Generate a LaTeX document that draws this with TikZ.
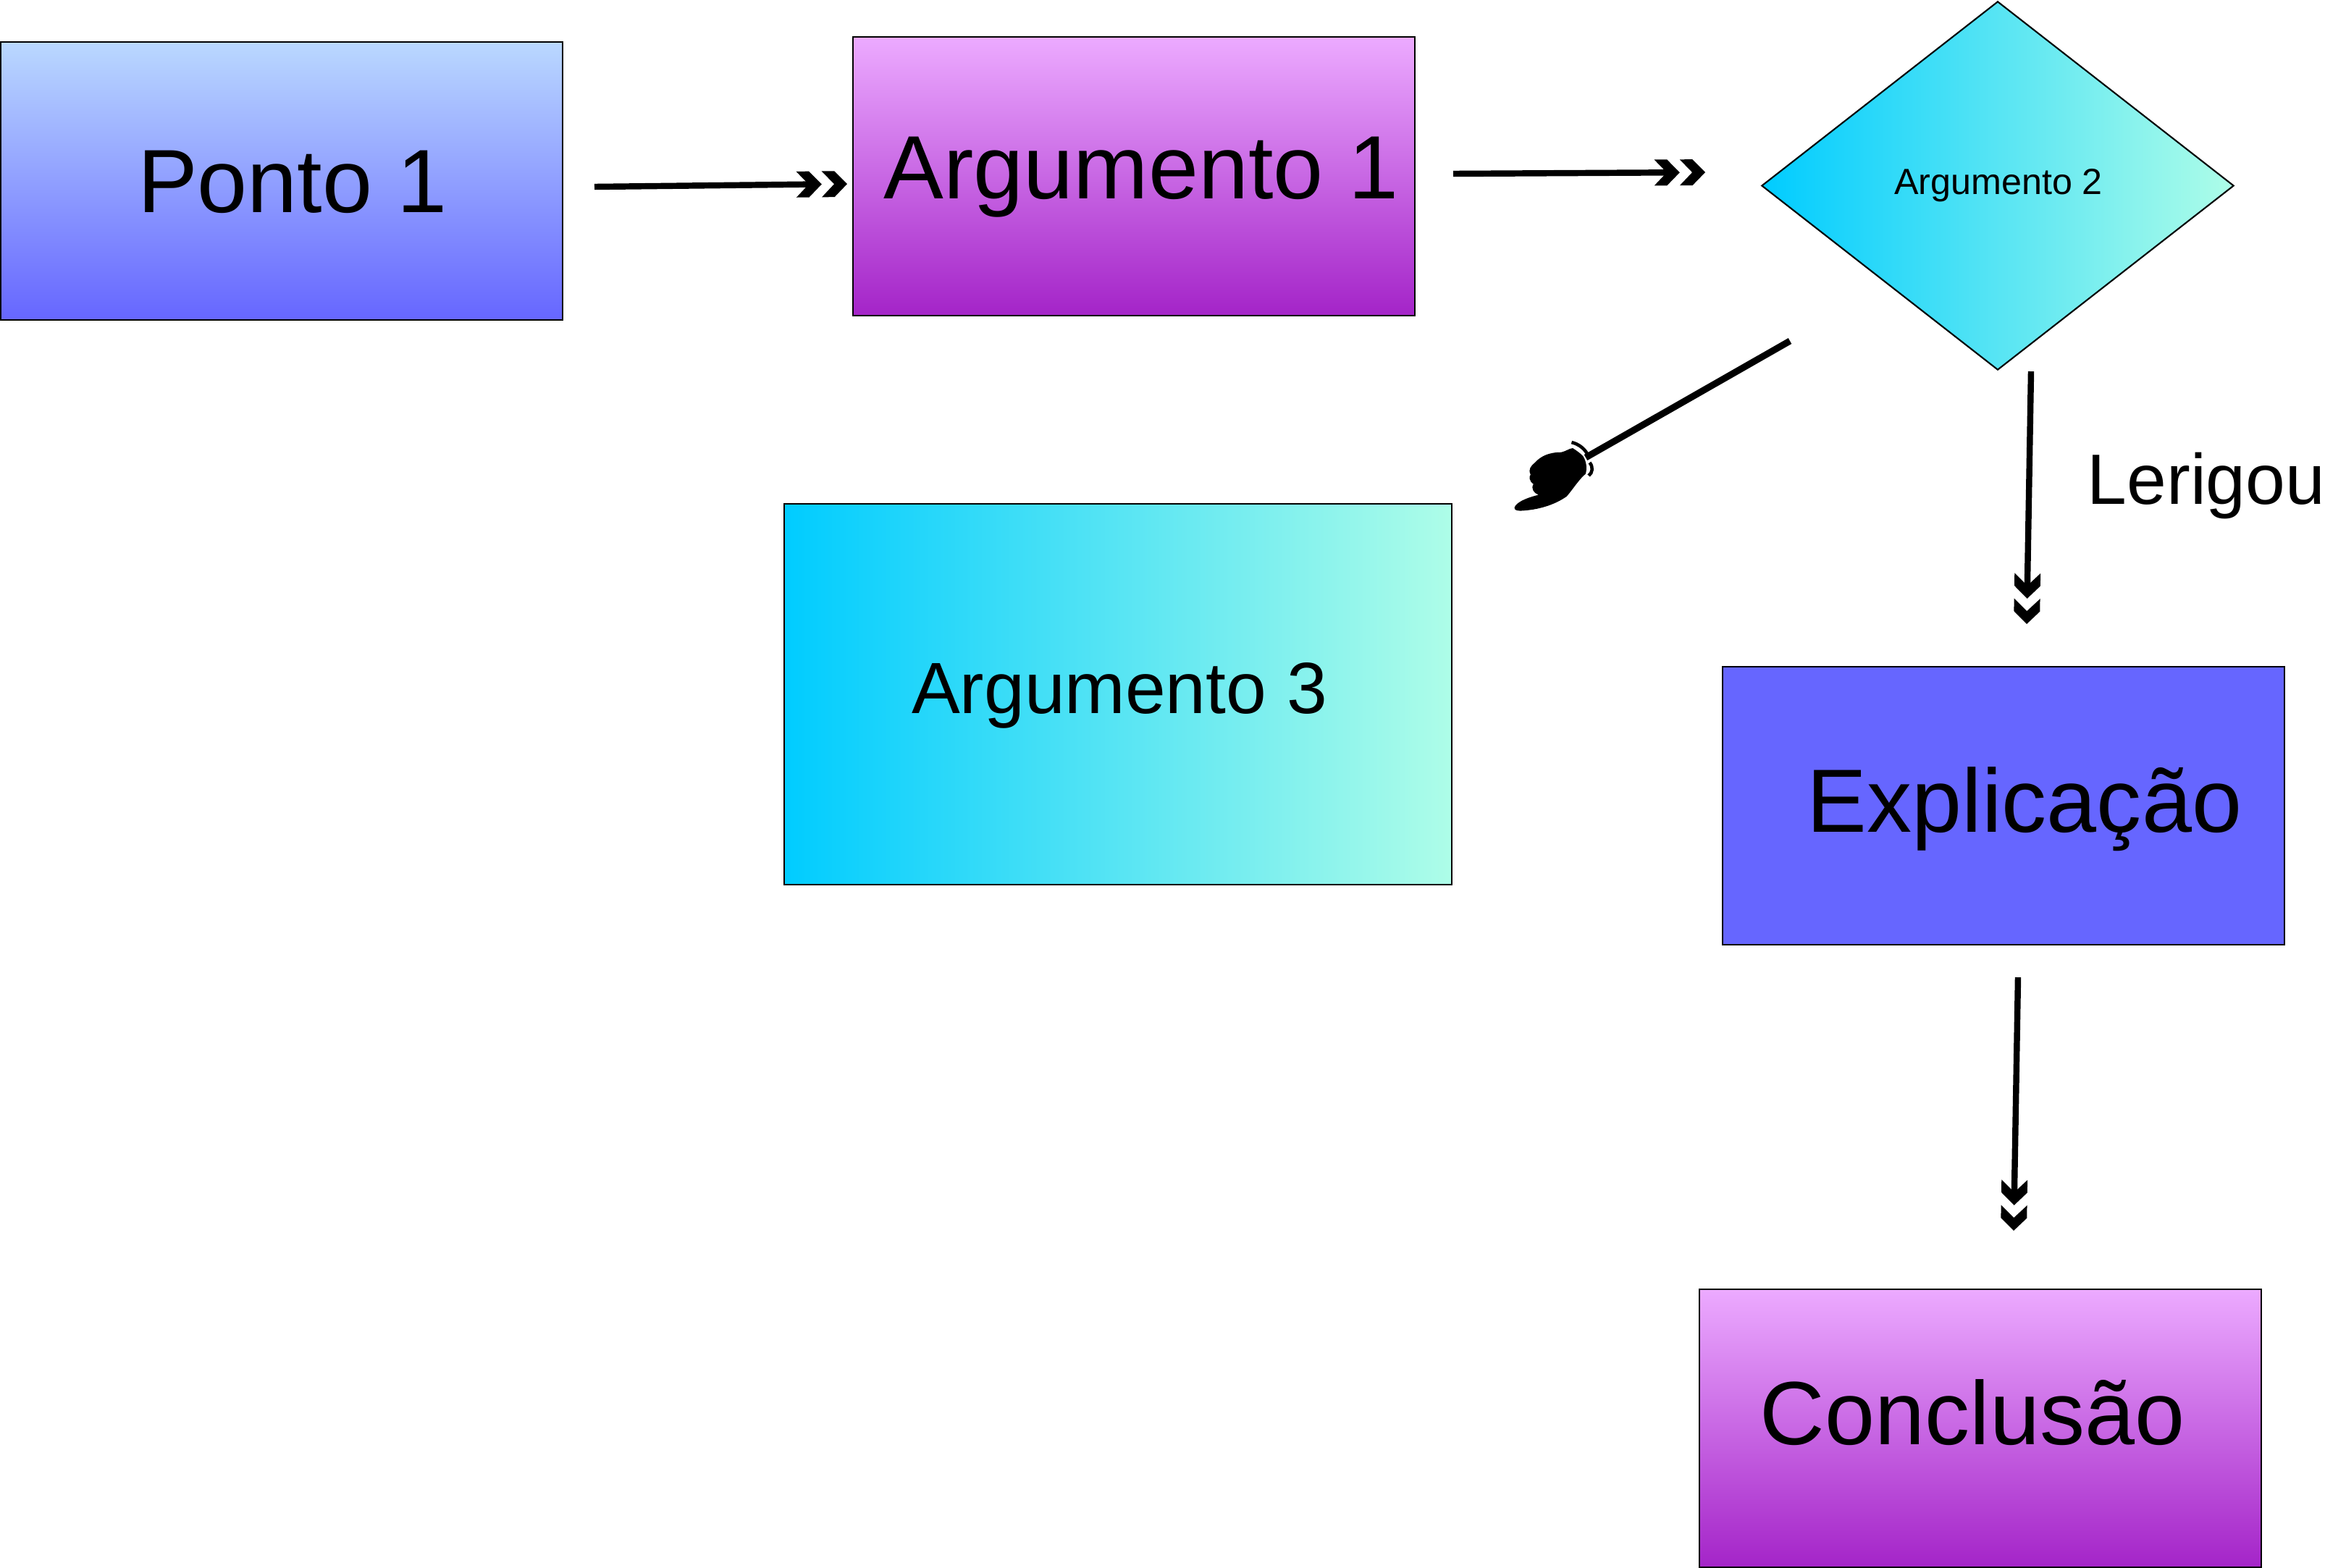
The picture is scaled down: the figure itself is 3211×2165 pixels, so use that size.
\documentclass[tikz,border=0pt]{standalone}
\usepackage{fontspec}
\setmainfont{Liberation Sans}
\usetikzlibrary{arrows.meta,shapes.geometric}

\definecolor{bluetop}{HTML}{BAD8FF}
\definecolor{bluelow}{HTML}{6666FF}
\definecolor{purpletop}{HTML}{ECAAFF}
\definecolor{purplelow}{HTML}{A424C8}
\definecolor{cyanleft}{HTML}{00CCFF}
\definecolor{cyanright}{HTML}{AEFDE8}

% double chevron tip
\pgfdeclarearrow{
  name=Chevrons,
  setup code={
    \pgfarrowssettipend{20pt}
    \pgfarrowssetbackend{0pt}
    \pgfarrowssetlineend{6pt}
    \pgfarrowssetvisualbackend{0pt}
  },
  drawing code={
    \pgfpathmoveto{\pgfpoint{10pt}{0pt}}
    \pgfpathlineto{\pgfpoint{5pt}{5.1pt}}
    \pgfpathlineto{\pgfpoint{0pt}{5.1pt}}
    \pgfpathlineto{\pgfpoint{4.9pt}{0pt}}
    \pgfpathlineto{\pgfpoint{0pt}{-5.1pt}}
    \pgfpathlineto{\pgfpoint{5pt}{-5.1pt}}
    \pgfpathclose
    \pgfpathmoveto{\pgfpoint{20pt}{0pt}}
    \pgfpathlineto{\pgfpoint{15pt}{5.1pt}}
    \pgfpathlineto{\pgfpoint{10pt}{5.1pt}}
    \pgfpathlineto{\pgfpoint{14.9pt}{0pt}}
    \pgfpathlineto{\pgfpoint{10pt}{-5.1pt}}
    \pgfpathlineto{\pgfpoint{15pt}{-5.1pt}}
    \pgfpathclose
    \pgfusepathqfill
  }
}

\tikzset{
  stepbox/.style={draw, line width=0.6pt, inner sep=0pt, outer sep=0pt, minimum width=7.76cm, minimum height=3.84cm},
  bluebox/.style={stepbox, top color=bluetop, bottom color=bluelow},
  purplebox/.style={stepbox, top color=purpletop, bottom color=purplelow},
  cyanfill/.style={left color=cyanleft, right color=cyanright},
  flow/.style={line width=2.4pt, -{Chevrons[]}},
  big/.style={font=\fontsize{35.3}{42}\selectfont, anchor=base},
  mid/.style={font=\fontsize{28.5}{34}\selectfont, anchor=base},
}

\begin{document}
\begin{tikzpicture}[x=0.01cm,y=-0.01cm]
  \useasboundingbox (0,0) rectangle (3211,2165);

  % boxes
  \node (ponto) [bluebox] at (389,250) {};
  \node (arg1) [purplebox] at (1566,243.5) {};
  \node (arg2) [draw, line width=0.6pt, cyanfill, diamond, inner sep=0pt, outer sep=0pt, aspect=1.28, minimum width=6.51cm, minimum height=5.08cm] at (2759,256.5) {};
  \node (arg3) [stepbox, cyanfill, minimum width=9.22cm, minimum height=5.25cm] at (1544,959) {};
  \node (expl) [stepbox, fill=bluelow] at (2767,1113) {};
  \node (concl) [purplebox] at (2735,1973) {};

  % labels
  \node (tponto) [big] at (404,293) {Ponto 1};
  \node (targ1) [big] at (1576,274) {Argumento 1};
  \node (targ2) [anchor=base, font=\fontsize{14.3}{17}\selectfont] at (2760,268) {Argumento 2};
  \node (targ3) [mid] at (1546,985) {Argumento 3};
  \node (texpl) [big] at (2796,1149) {Explicação};
  \node (tconcl) [big] at (2724,1995) {Conclusão};
  \node (tler) [font=\fontsize{28}{34}\selectfont, anchor=base west, inner sep=0pt] at (2882,696) {Lerigou};

  % ends of the arrows
  \coordinate (a) at (821,258);
  \coordinate (b) at (1170,254);
  \coordinate (c) at (2007,240);
  \coordinate (d) at (2355,238);
  \coordinate (e) at (2805,513);
  \coordinate (f) at (2799,862);
  \coordinate (g) at (2787,1350);
  \coordinate (h) at (2781,1700);
  \coordinate (i) at (2472,471);
  \coordinate (j) at (2190,632);

  \draw [flow] (a) -- (b);
  \draw [flow] (c) -- (d);
  \draw [flow] (e) -- (f);
  \draw [flow] (g) -- (h);
  \draw [line width=2.6pt] (i) -- (j);

  % the hand
  \begin{scope}[shift={(2040,440)},x=0.00333cm,y=-0.00333cm]
    \fill (155,785) .. controls (160,765) and (200,745) .. (255,732)
      .. controls (235,725) and (222,705) .. (234,687)
      .. controls (215,675) and (215,655) .. (222,648)
      .. controls (210,625) and (225,610) .. (240,598)
      .. controls (265,570) and (300,555) .. (350,555)
      .. controls (370,550) and (385,538) .. (397,538)
      .. controls (415,550) and (430,560) .. (440,572)
      .. controls (452,590) and (458,620) .. (450,645)
      .. controls (425,665) and (400,705) .. (372,738)
      .. controls (320,775) and (250,795) .. (180,798)
      .. controls (165,798) and (155,795) .. (155,785) -- cycle;
    \draw [line width=1.3pt] (392,514) .. controls (420,520) and (445,540) .. (456,560);
    \draw [line width=1.3pt] (467,598) .. controls (482,615) and (480,640) .. (463,652);
  \end{scope}
\end{tikzpicture}
\end{document}
